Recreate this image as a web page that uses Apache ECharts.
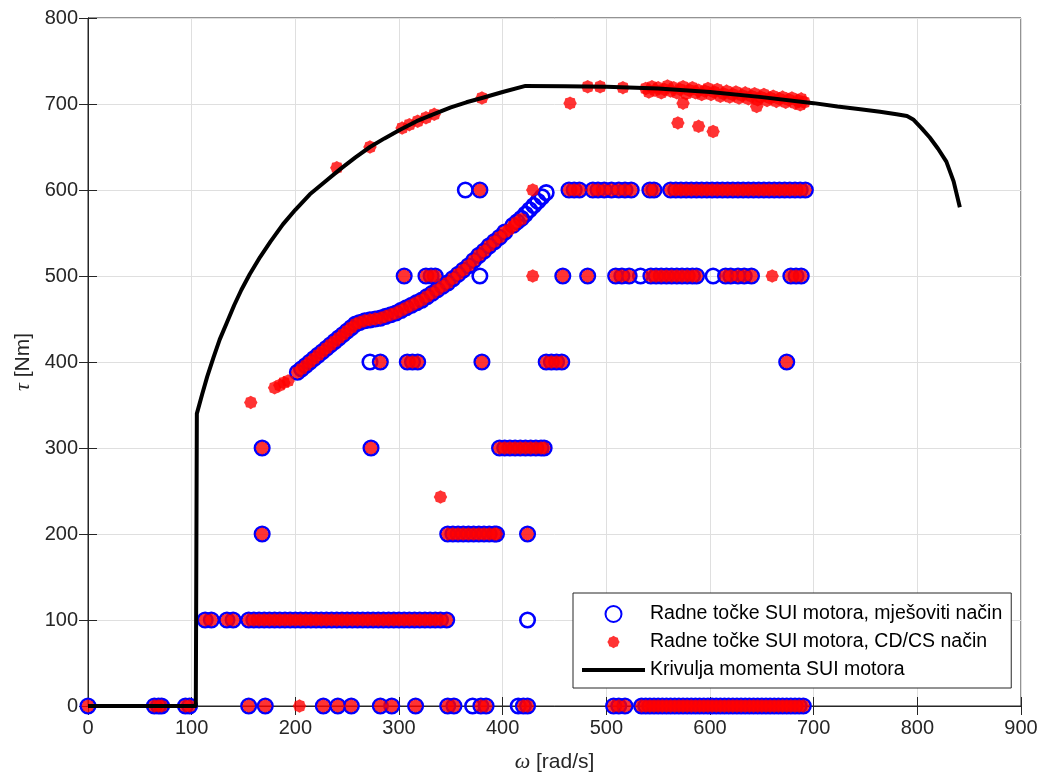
<!DOCTYPE html>
<html>
<head>
<meta charset="utf-8">
<script src="https://cdn.jsdelivr.net/npm/echarts@6/dist/echarts.min.js"></script>
<style>
html,body{margin:0;padding:0;background:#fff;}
#chart{width:1049px;height:778px;}
</style>
</head>
<body>
<div id="chart"></div>
<script>
// ---------- DATA ----------
// Horizontal rows of operating points (omega values, rad/s) at fixed torque levels (Nm)
const row0Both   = [0,64,68,71,94,98,155,171,227,241,254,282,293,316,347,353,379,384,420,424,507,512,518,534,538,542,546,550,554,558,562,566,570,574,578,582,586,590,594,598,602,606,610,614,618,622,626,630,634,638,642,646,650,654,658,662,666,670,674,678,682,686,690];
const row0Mixed  = [371,415];
const row0Cd     = [204];
const row100Both = [113,119,134,140,155,160,165,170,175,180,185,190,195,200,205,210,215,220,225,230,235,240,245,250,255,260,265,270,275,280,285,290,295,300,305,310,315,320,325,330,335,340,346];
const row100Mixed= [424];
const row200Both = [168,347,352,357,362,367,372,377,382,387,392,394,424];
const row300Both = [168,273,397,402,407,412,417,422,427,432,437,440];
const row400Both = [282,308,313,318,380,442,447,452,457,674];
const row400Mixed= [272];
const row500Both = [305,326,331,335,458,482,509,515,522,543,548,553,558,563,568,573,578,583,587,615,620,627,633,640,678,683,688];
const row500Mixed= [378,533,603];
const row500Cd   = [429,660];
const row600Both = [378,464,469,474,487,492,498,505,512,518,524,542,546,562,567,572,577,582,587,592,597,602,607,612,617,622,627,632,637,642,647,652,657,662,667,672,677,682,687,692];
const row600Mixed= [364];
const row600Cd   = [429];

// Rising band of points [omega, tau]
const diagBoth = [[202,388],[206,392],[210,396],[214,400],[218,404],[222,408],[226,412],[230,416],[234,420],[238,424],[242,428],[246,432],[250,436],[254,440],[258,444],[262,446],[267,448],[272,449],[277,450],[282,451],[287,453],[292,455],[297,457],[302,460],[307,463],[312,466],[317,469],[322,472],[327,476],[332,480],[337,484],[342,488],[347,492],[352,497],[357,502],[362,507],[367,512],[372,518],[377,524],[382,529],[387,535],[392,540],[397,545],[402,551]];
const diagMixedOnly = [[410,559],[414,563],[418,567],[422,572],[426,577],[430,582],[434,587],[438,592],[442,597]];
const diagCdOnly = [[406,554],[410,558],[413,562],[418,566]];
const lowCdOnly = [[157,353],[180,370],[185,373],[189,376],[193,378],[340,243]];
// CD/CS points near the full-load torque curve
const topCdOnly = [[240,626],[272,650],[303,672],[310,676],[318,680],[326,684],[334,688],[380,707],[465,701],[482,720],[494,720],[516,719],
 [538,718],[541,714],[544,720],[547,716],[550,719],[553,713],[556,717],[559,721],[562,715],[565,719],[568,713],[571,717],[574,720],[577,712],[580,716],[583,719],[586,713],[589,716],[592,711],[595,715],[598,718],[601,711],[604,714],[607,717],[610,709],[613,712],[616,715],[619,708],[622,711],[625,714],[628,707],[631,710],[634,713],[637,706],[640,709],[643,712],[646,705],[649,708],[652,711],[655,704],[658,707],[661,709],[664,703],[667,706],[670,708],[673,702],[676,705],[679,707],[682,701],[685,704],[688,706],[691,702],
 [574,701],[569,678],[589,674],[603,668],[645,697],[687,699]];
// Full-load torque curve of the ICE
const curveOmega = [0,104,105,110,115,121,127,134,141,148,156,166,176,188,200,214,228,243,258,272,286,301,317,333,350,365,380,400,422,460,500,550,600,650,700,723,745,764,780,790,796,804,812,820,828,835,841];
const curveTau   = [0,0,340,362,383,405,426,446,466,484,502,522,540,560,577,595,609,624,638,650,660,670,680,688,696,702,707,714,721,720.5,720,718,714,708,701,697,694,691,688,686,682,672,661,648,633,610,580];

const xTicks = {min:0,max:900,interval:100};
const yTicks = {min:0,max:800,interval:100};

const names = ['Radne točke SUI motora, mješoviti način','Radne točke SUI motora, CD/CS način','Krivulja momenta SUI motora'];

// ---------- BUILD ----------
function atLevel(list, tau){ return list.map(w => [w, tau]); }
const mixedData = [].concat(
  atLevel(row0Both,0), atLevel(row0Mixed,0),
  atLevel(row100Both,100), atLevel(row100Mixed,100),
  atLevel(row200Both,200), atLevel(row300Both,300),
  atLevel(row400Both,400), atLevel(row400Mixed,400),
  atLevel(row500Both,500), atLevel(row500Mixed,500),
  atLevel(row600Both,600), atLevel(row600Mixed,600),
  diagBoth, diagMixedOnly);
const cdData = [].concat(
  atLevel(row0Both,0), atLevel(row0Cd,0),
  atLevel(row100Both,100),
  atLevel(row200Both,200), atLevel(row300Both,300),
  atLevel(row400Both,400),
  atLevel(row500Both,500), atLevel(row500Cd,500),
  atLevel(row600Both,600), atLevel(row600Cd,600),
  diagBoth, diagCdOnly, lowCdOnly, topCdOnly);
const curveData = curveOmega.map((w,i) => [w, curveTau[i]]);

// asterisk-like marker path
function makeStar(pad){
  let p = 'path://';
  if (pad) p += 'M' + (-pad) + ',' + (-pad) + 'M' + pad + ',' + pad;
  for (let i = 0; i < 16; i++) {
    const r = (i % 2) ? 0.87 : 1;
    const a = i * Math.PI / 8 - Math.PI/2;
    p += (i === 0 ? 'M' : 'L') + (r*Math.cos(a)).toFixed(3) + ',' + (r*Math.sin(a)).toFixed(3);
  }
  return p + 'Z';
}
const starPath = makeStar(0);
const starLegend = makeStar(1.3);
const lineLegend = 'path://M0,0L63,0L63,4L0,4Z';

const axisColor = '#262626';
const font = 'Liberation Sans, Arial, Helvetica, sans-serif';
const richItalic = {i: {fontStyle: 'italic', fontFamily: 'Liberation Serif, serif', fontSize: 22, color: axisColor}};

const chart = echarts.init(document.getElementById('chart'), null, {renderer:'canvas'});
chart.setOption({
  animation: false,
  backgroundColor: '#ffffff',
  grid: {left: 88, right: 28, top: 18, bottom: 71, show: true, borderColor: axisColor, borderWidth: 1, backgroundColor: 'transparent'},
  xAxis: [{
    type: 'value', min: xTicks.min, max: xTicks.max, interval: xTicks.interval,
    position: 'bottom',
    name: '{i|ω} [rad/s]', nameLocation: 'middle', nameGap: 45,
    nameTextStyle: {color: axisColor, fontSize: 21, fontFamily: font, rich: richItalic},
    axisLine: {show: true, lineStyle: {color: axisColor, width: 1}},
    axisTick: {show: true, inside: true, length: 9, lineStyle: {color: axisColor}},
    axisLabel: {color: axisColor, fontSize: 20, fontFamily: font, margin: 12},
    splitLine: {show: true, lineStyle: {color: '#dfdfdf', width: 1}}
  },{
    type: 'value', min: xTicks.min, max: xTicks.max, interval: xTicks.interval,
    position: 'top',
    axisLine: {show: true, lineStyle: {color: axisColor, width: 1}},
    axisTick: {show: true, inside: true, length: 9, lineStyle: {color: axisColor}},
    axisLabel: {show: false}, splitLine: {show: false}
  }],
  yAxis: [{
    type: 'value', min: yTicks.min, max: yTicks.max, interval: yTicks.interval,
    position: 'left',
    name: '{i|τ} [Nm]', nameLocation: 'middle', nameGap: 47, nameRotate: 90,
    nameTextStyle: {color: axisColor, fontSize: 21, fontFamily: font, rich: richItalic},
    axisLine: {show: true, lineStyle: {color: axisColor, width: 1}},
    axisTick: {show: true, inside: true, length: 9, lineStyle: {color: axisColor}},
    axisLabel: {color: axisColor, fontSize: 20, fontFamily: font, margin: 10},
    splitLine: {show: true, lineStyle: {color: '#dfdfdf', width: 1}}
  },{
    type: 'value', min: yTicks.min, max: yTicks.max, interval: yTicks.interval,
    position: 'right',
    axisLine: {show: true, lineStyle: {color: axisColor, width: 1}},
    axisTick: {show: true, inside: true, length: 9, lineStyle: {color: axisColor}},
    axisLabel: {show: false}, splitLine: {show: false}
  }],
  legend: {
    orient: 'vertical', left: 573, top: 593,
    data: [{name: names[0]}, {name: names[1], icon: starLegend}, {name: names[2], icon: lineLegend}],
    itemWidth: 63, itemHeight: 16, itemGap: 8, itemTextGap: 8,
    padding: [11, 9, 8, 9],
    backgroundColor: '#ffffff', borderColor: '#262626', borderWidth: 1,
    textStyle: {color: '#000', fontSize: 19.5, fontFamily: font},
    selectedMode: false
  },
  series: [{
    name: names[0], type: 'scatter', data: mixedData,
    symbol: 'circle', symbolSize: 14.5,
    itemStyle: {color: 'rgba(0,0,0,0)', borderColor: '#0000ff', borderWidth: 2.6, opacity: 1},
    emphasis: {disabled: true}, z: 3
  },{
    name: names[1], type: 'scatter', data: cdData,
    symbol: starPath, symbolSize: 13.5, symbolKeepAspect: true,
    itemStyle: {color: '#ff0000'},
    emphasis: {disabled: true}, z: 4
  },{
    name: names[2], type: 'line', data: curveData,
    showSymbol: false, symbol: 'none', clip: false,
    lineStyle: {color: '#000000', width: 4, join: 'round'},
    itemStyle: {color: '#000000'},
    emphasis: {disabled: true}, z: 5
  }]
});
</script>
</body>
</html>
